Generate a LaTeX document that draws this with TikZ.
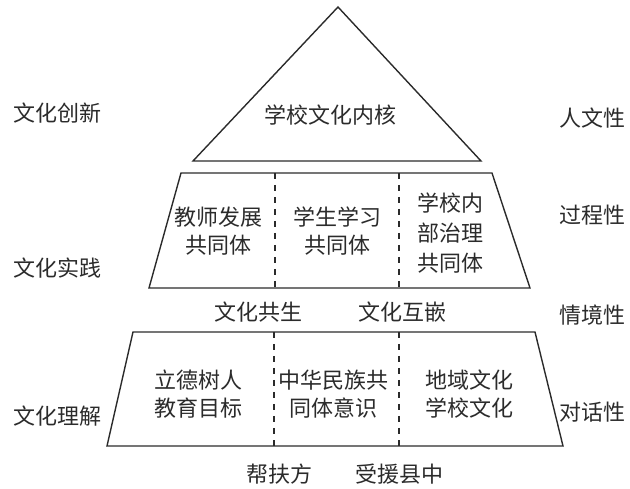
\documentclass[tikz,border=0pt]{standalone}
\usepackage{fontspec}
\setmainfont{Noto Sans CJK SC}
\usepackage{xcolor}
\usepackage{tikz}
\usetikzlibrary{positioning,calc}
\definecolor{pyrink}{HTML}{2B2B2B}

\begin{document}
\begin{tikzpicture}[x=1pt,y=-1pt,font=\fontsize{22}{28}\selectfont,
  lbl/.style={text=pyrink,inner sep=0,align=center},
  edge/.style={draw=pyrink,line width=1.4pt,line join=miter},
  sep/.style={draw=pyrink,line width=1.4pt,dash pattern=on 6pt off 6pt}]
  \useasboundingbox (0,0) rectangle (630,489);
  \coordinate (apex) at (338,7);
  \coordinate (tbl) at (193,161);
  \coordinate (tbr) at (481,161);
  \draw[edge] (apex) -- (tbl) -- (tbr) -- cycle;
  \coordinate (mtl) at (181,173);
  \coordinate (mtr) at (492,173);
  \coordinate (mbr) at (530,288);
  \coordinate (mbl) at (149,288);
  \draw[edge] (mtl) -- (mtr) -- (mbr) -- (mbl) -- cycle;
  \coordinate (btl) at (133,332);
  \coordinate (btr) at (535,332);
  \coordinate (bbr) at (563,446);
  \coordinate (bbl) at (107,446);
  \draw[edge] (btl) -- (btr) -- (bbr) -- (bbl) -- cycle;
  \foreach \xx/\t/\b in {275/mtl/mbl,399/mtl/mbl,274/btl/bbl,399/btl/bbl}{
      \draw[sep] (\t -| \xx,0) -- (\b -| \xx,0);
  }
  \node[lbl] (core) at (330,115) {学校文化内核};
  \node[lbl] (teach) at (218,231) {教师发展\\共同体};
  \node[lbl] (learn) at (337,231) {学生学习\\共同体};
  \node[lbl,font=\fontsize{22}{30}\selectfont] (gov) at (450,233) {学校内\\部治理\\共同体};
  \node[lbl] (goal) at (198,394) {立德树人\\教育目标};
  \node[lbl] (nation) at (333,394) {中华民族共\\同体意识};
  \node[lbl] (region) at (469,394) {地域文化\\学校文化};
  \node[lbl] (cosym) at (258,312) {文化共生};
  \node[lbl] (embed) at (402,312) {文化互嵌};
  \node[lbl] (helper) at (279,474) {帮扶方};
  \node[lbl] (county) at (399,474) {受援县中};
  \foreach \nm/\yy/\txt in {innov/113/文化创新,pract/268/文化实践,under/416/文化理解}{
      \node[lbl] (\nm) at (57,\yy) {\txt};
  }
  \foreach \nm/\yy/\txt in {human/118/人文性,proc/215/过程性,situ/315/情境性,dial/412/对话性}{
      \node[lbl] (\nm) at (592,\yy) {\txt};
  }
\end{tikzpicture}
\end{document}
